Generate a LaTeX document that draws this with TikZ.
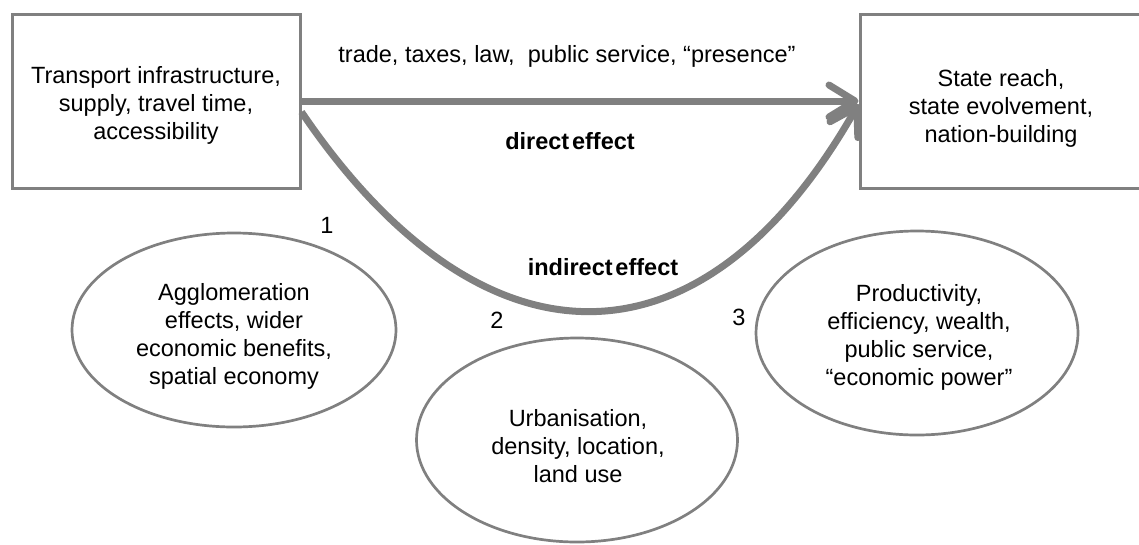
\documentclass[tikz,border=0pt]{standalone}
\usepackage{fontspec}
\setmainfont{Liberation Sans}
\usetikzlibrary{arrows.meta,shapes.geometric,calc}
\definecolor{lg}{HTML}{808080}
\newcommand\mytxt{\fontsize{23.5}{28}\selectfont}
\begin{document}
\begin{tikzpicture}[x=1pt,y=-1pt,
  box/.style={draw=lg,line width=3pt,minimum width=288pt,minimum height=174pt,inner sep=0pt},
  oval/.style={draw=lg,line width=2.7pt,ellipse,inner sep=0pt},
  lbl/.style={font=\mytxt,inner sep=0pt,align=center},
  arr/.style={draw=lg,line width=7pt,-{Straight Barb[length=26pt,width=32pt,round]}}]
\useasboundingbox (0,0) rectangle (1139,544);
\node[box] (A) at (156,101) {};
\node[box,minimum width=282pt] (B) at (1001,101) {};
\node[oval,minimum width=324pt,minimum height=194pt] (E1) at (234,330) {};
\node[oval,minimum width=321pt,minimum height=204pt] (E2) at (577,440) {};
\node[oval,minimum width=322pt,minimum height=204pt] (E3) at (917,333) {};
\node[lbl] (At) at ([yshift=-4.5pt]A.center) {Transport infrastructure,\\supply, travel time,\\accessibility};
\node[lbl] (Bt) at ([yshift=-7pt]B.center) {State reach,\\state evolvement,\\nation-building};
\node[lbl] (E1t) at ([yshift=-6pt]E1.center) {Agglomeration\\effects, wider\\economic benefits,\\spatial economy};
\node[lbl] (E2t) at ([xshift=1pt,yshift=-6pt]E2.center) {Urbanisation,\\density, location,\\land use};
\node[lbl] (E3t) at ([xshift=2pt,yshift=-4pt]E3.center) {Productivity,\\efficiency, wealth,\\public service,\\“economic power”};
\node[lbl] (t1) at (567,56) {trade, taxes, law, \ public service, “presence”};
\node[lbl,font=\mytxt\bfseries] (t2) at (570,141) {direct\hspace{0.12em}effect};
\node[lbl,font=\mytxt\bfseries] (t3) at (603,267) {indirect\hspace{0.12em}effect};
\node[lbl] (n1) at (327,225) {1};
\node[lbl] (n2) at (497,320) {2};
\node[lbl] (n3) at (739,317) {3};
\draw[arr] (A.east) -- (B.west);
\draw[arr] ([yshift=-11pt]A.east) .. controls (479,374) and (700,383) .. ([yshift=-3pt]B.west);
\end{tikzpicture}
\end{document}
